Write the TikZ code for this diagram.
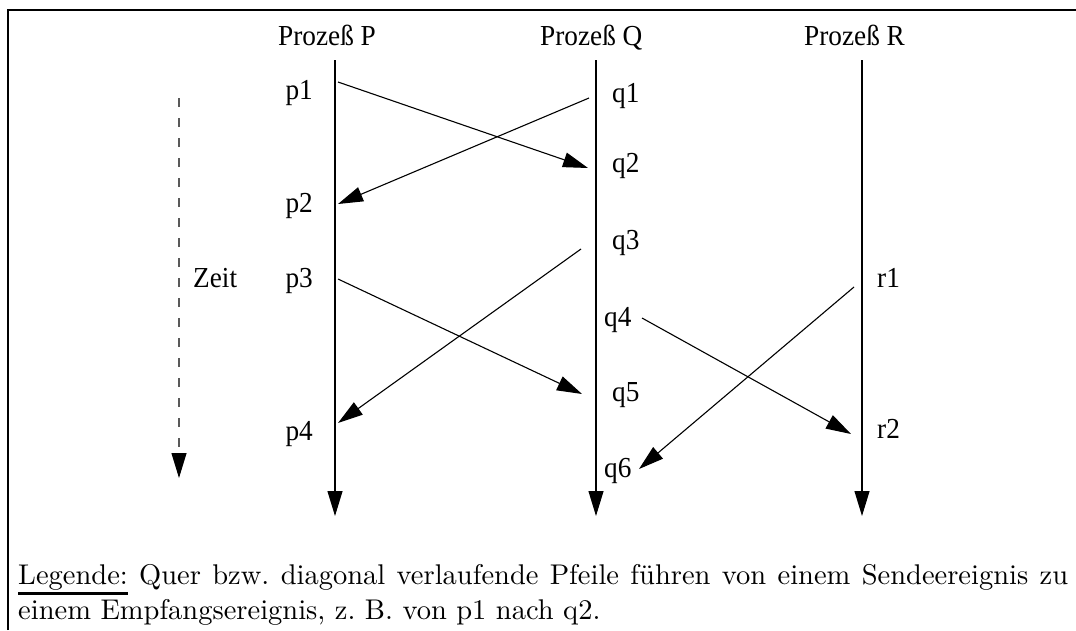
\documentclass[tikz,border=0pt]{standalone}
\usepackage{fontspec}
\setmainfont{Liberation Serif}[FakeStretch=0.94]
\newfontfamily\legfont{lmroman10-regular.otf}
\usetikzlibrary{arrows.meta}

\newcommand{\unterstr}[1]{\leavevmode\vtop{\hbox{#1}\kern2.5pt\hrule height 3pt}}

\tikzset{
  pfeil/.style={line width=1.1pt,-{Triangle[length=25pt,width=15pt]}},
  zeitpfeil/.style={line width=1.1pt,draw=black!65,dash pattern=on 9pt off 11pt,
    -{Triangle[length=25pt,width=15pt,color=black]}},
  lbl/.style={font=\fontsize{29}{32}\selectfont,inner sep=0pt,anchor=base west},
}

\begin{document}
\begin{tikzpicture}[x=1pt,y=-1pt]
\useasboundingbox (0,0) rectangle (1076,630);
\draw[line width=2.5pt] (8,630) -- (8,10) -- (1076,10);

% Prozesse
\node[lbl] (tP) at (278,45) {Prozeß P};
\node[lbl] (tQ) at (540,45) {Prozeß Q};
\node[lbl] (tR) at (804,45) {Prozeß R};
\coordinate (Pa) at (335,60);  \coordinate (Pe) at (335,516);
\coordinate (Qa) at (596,60);  \coordinate (Qe) at (596,516);
\coordinate (Ra) at (862,60);  \coordinate (Re) at (862,516);
\draw[pfeil] (Pa) -- (Pe);
\draw[pfeil] (Qa) -- (Qe);
\draw[pfeil] (Ra) -- (Re);

% Zeitachse
\coordinate (Za) at (179,98);  \coordinate (Ze) at (179,478);
\draw[zeitpfeil] (Za) -- (Ze);
\node[lbl] (zeit) at (193,287) {Zeit};

% Ereignisse
\node[lbl,anchor=base east] (p1) at (313,99) {p1};
\node[lbl,anchor=base east] (p2) at (313,212) {p2};
\node[lbl,anchor=base east] (p3) at (313,287) {p3};
\node[lbl,anchor=base east] (p4) at (313,440) {p4};
\node[lbl] (q1) at (612,102) {q1};
\node[lbl] (q2) at (612,172) {q2};
\node[lbl] (q3) at (612,249) {q3};
\node[lbl] (q4) at (604,326) {q4};
\node[lbl] (q5) at (612,401) {q5};
\node[lbl] (q6) at (604,477) {q6};
\node[lbl] (r1) at (877,287) {r1};
\node[lbl] (r2) at (877,438) {r2};

% Nachrichten
\coordinate (p1s) at (338,82);   \coordinate (q2e) at (588,168);
\coordinate (q1s) at (589,98);   \coordinate (p2e) at (338,204);
\coordinate (q3s) at (581,249);  \coordinate (p4e) at (338,423);
\coordinate (p3s) at (338,279);  \coordinate (q5e) at (582,394);
\coordinate (q4s) at (642,318);  \coordinate (r2e) at (851,434);
\coordinate (r1s) at (854,287);  \coordinate (q6e) at (639,469);
\draw[pfeil] (p1s) -- (q2e);
\draw[pfeil] (q1s) -- (p2e);
\draw[pfeil] (q3s) -- (p4e);
\draw[pfeil] (p3s) -- (q5e);
\draw[pfeil] (q4s) -- (r2e);
\draw[pfeil] (r1s) -- (q6e);

% Legende
\node[inner sep=0pt,anchor=base west] (leg) at (18,584) {\parbox[t]{1050pt}{%
  \legfont\fontsize{28.5}{35}\selectfont\frenchspacing
  \unterstr{Legende:} Quer bzw. diagonal verlaufende Pfeile führen von einem
  Sendeereignis zu\linebreak einem Empfangsereignis, z.~B. von p1 nach q2.}};
\end{tikzpicture}
\end{document}
